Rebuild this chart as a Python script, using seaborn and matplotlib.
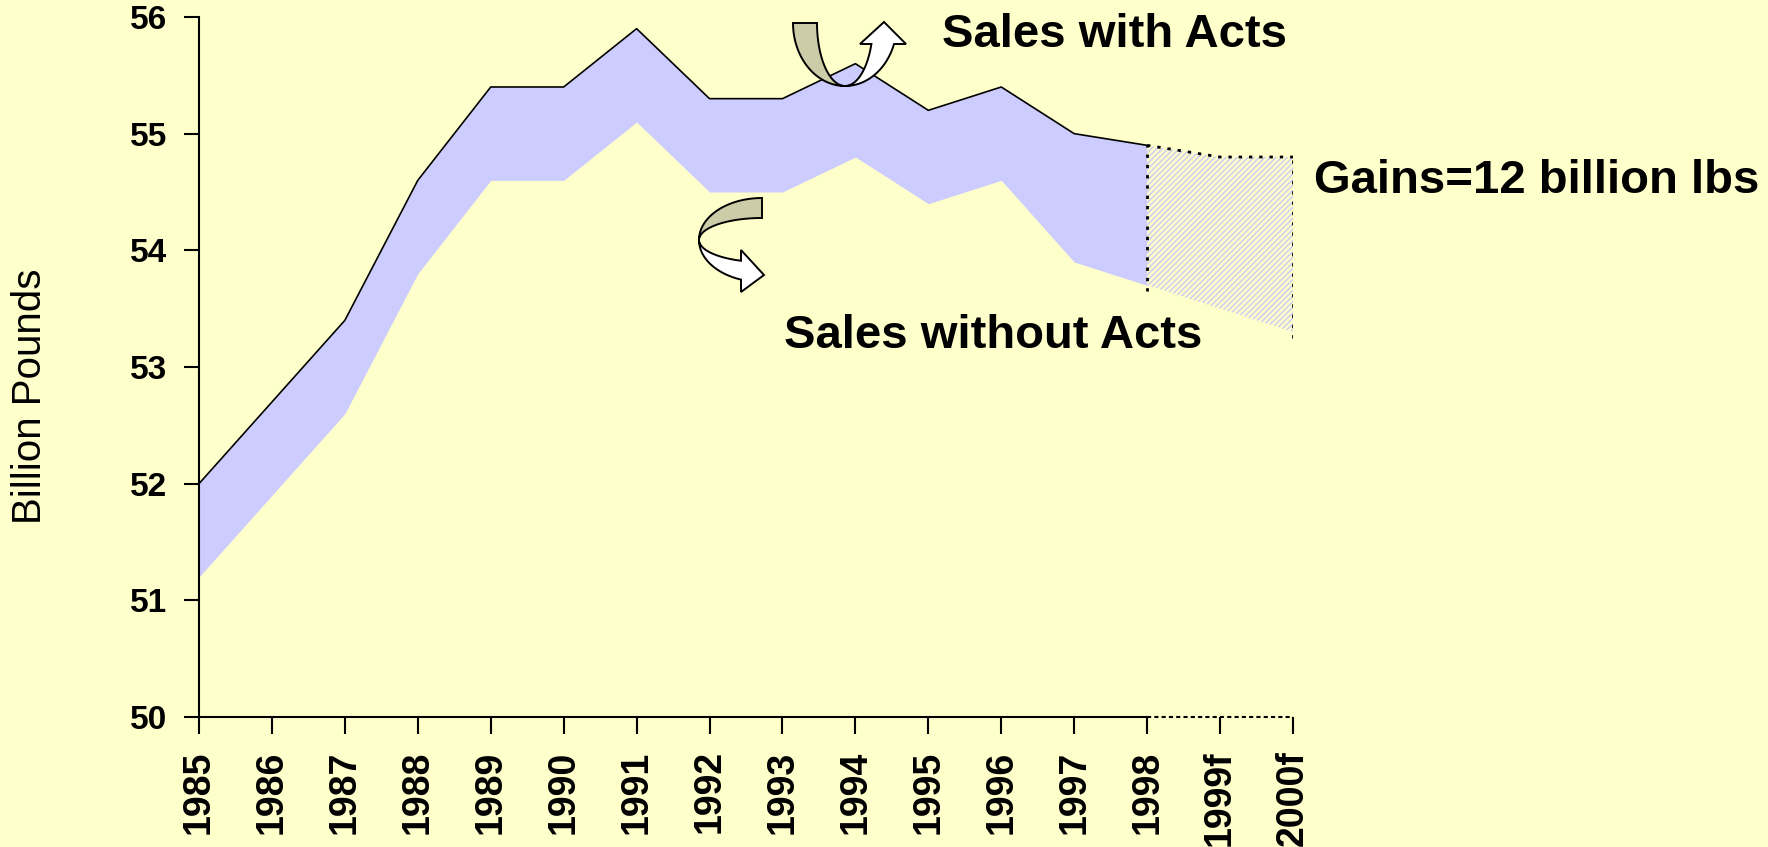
import numpy as np
import matplotlib
matplotlib.use("Agg")
import matplotlib.pyplot as plt
from matplotlib.patches import Polygon
import seaborn as sns

# --- data ---
years = ["1985", "1986", "1987", "1988", "1989", "1990", "1991", "1992",
         "1993", "1994", "1995", "1996", "1997", "1998", "1999f", "2000f"]
with_acts = [52.0, 52.7, 53.4, 54.6, 55.4, 55.4, 55.9, 55.3,
             55.3, 55.6, 55.2, 55.4, 55.0, 54.9, 54.8, 54.8]
without_acts = [51.2, 51.9, 52.6, 53.8, 54.6, 54.6, 55.1, 54.5,
                54.5, 54.8, 54.4, 54.6, 53.9, 53.7, 53.5, 53.3]
last_actual = "1998"
y_ticks = [50, 51, 52, 53, 54, 55, 56]

BG = "#FFFFCC"
LAVENDER = "#CCCCFF"
TAN = "#CCCCA8"
W, H = 1768, 847

sns.set_style("ticks")
plt.rcParams["font.family"] = ["Liberation Sans", "DejaVu Sans"]
plt.rcParams["text.color"] = "black"
plt.rcParams["hatch.linewidth"] = 1.0

fig = plt.figure(figsize=(W / 100, H / 100), dpi=100, facecolor=BG)
ax = fig.add_axes([199 / W, 1 - 717 / H, (1293 - 199) / W, 700 / H])
ax.set_facecolor(BG)

pos = np.arange(len(years))
top = np.array(with_acts)
bot = np.array(without_acts)
k = years.index(last_actual)

# actual period: lavender band + solid top line
ax.fill_between(pos[:k + 1], bot[:k + 1], top[:k + 1], color=LAVENDER, lw=0)
sns.lineplot(x=pos[:k + 1], y=top[:k + 1], color="black", lw=1.2, ax=ax)

# forecast period: hatched band with dotted outline
ax.fill_between(pos[k:], bot[k:], top[k:], facecolor=BG, edgecolor="#CACAF2",
                hatch="//////", lw=0)
sns.lineplot(x=pos[k:], y=top[k:], color="black", lw=2, ls=(0, (1.2, 2.5)), ax=ax)
ax.vlines([pos[k], pos[-1]], [bot[k] - 0.05, bot[-1] - 0.05], [top[k], top[-1]],
          colors="black", lw=2, linestyles=[(0, (1.2, 2.5))])

ax.set_xlim(0, len(years) - 1)
ax.set_ylim(y_ticks[0], y_ticks[-1])
ax.set_xticks(pos)
ax.set_xticklabels(years, rotation=90, fontsize=27, fontweight="bold")
ax.set_yticks(y_ticks)
ax.set_yticklabels([str(t) for t in y_ticks], fontsize=24, fontweight="bold")
ax.tick_params(axis="y", length=11, width=1.5, pad=12, colors="black")
ax.tick_params(axis="x", length=12, width=1.5, pad=12, colors="black")
ax.set_xlabel("")
ax.set_ylabel("")

for side in ["top", "right"]:
    ax.spines[side].set_visible(False)
for side in ["left", "bottom"]:
    ax.spines[side].set_color("black")
    ax.spines[side].set_linewidth(1.5)
ax.spines["bottom"].set_bounds(0, k)
ax.plot([pos[k], pos[-1]], [y_ticks[0]] * 2, color="black", lw=1.5,
        ls=(0, (2, 1.5)), clip_on=False)


def fxy(pts):
    return [(x / W, 1 - y / H) for x, y in pts]


def arc(cx, cy, a, b, t0, t1, n=40):
    t = np.linspace(t0, t1, n)
    return list(zip(cx + a * np.cos(t), cy + b * np.sin(t)))


# curved arrow near "Sales with Acts"
cx, cy, b = 845, 23, 63
te = np.arcsin((44 - cy) / b)
back = arc(cx, cy, 52, b, np.pi, np.pi / 2) + arc(cx, cy, 28, b, np.pi / 2, np.pi)
front = (arc(cx, cy, 52, b, np.pi / 2, te) + [(906, 44), (884, 22), (860, 44)]
         + arc(cx, cy, 28, b, te, np.pi / 2))
fig.add_artist(Polygon(fxy(back), closed=True, transform=fig.transFigure,
                       facecolor=TAN, edgecolor="black", lw=1.4))
fig.add_artist(Polygon(fxy(front), closed=True, transform=fig.transFigure,
                       facecolor="white", edgecolor="black", lw=1.4))

# curved arrow near "Sales without Acts"
cx, cy, a = 762, 240, 63
te = np.arccos((741 - cx) / a)
back = arc(cx, cy, a, 42, 1.5 * np.pi, np.pi) + arc(cx, cy, a, 22, np.pi, 1.5 * np.pi)
front = (arc(cx, cy, a, 42, np.pi, te) + [(741, 292), (764, 275), (741, 250)]
         + arc(cx, cy, a, 22, te, np.pi))
fig.add_artist(Polygon(fxy(back), closed=True, transform=fig.transFigure,
                       facecolor=TAN, edgecolor="black", lw=1.4))
fig.add_artist(Polygon(fxy(front), closed=True, transform=fig.transFigure,
                       facecolor="white", edgecolor="black", lw=1.4))

# text labels
fig.text(942 / W, 1 - 47 / H, "Sales with Acts", fontsize=34, fontweight="bold",
         ha="left", va="baseline", color="black")
fig.text(1314 / W, 1 - 193 / H, "Gains=12 billion lbs", fontsize=34,
         fontweight="bold", ha="left", va="baseline", color="black")
fig.text(784 / W, 1 - 348 / H, "Sales without Acts", fontsize=34,
         fontweight="bold", ha="left", va="baseline", color="black")
fig.text(30 / W, 1 - 396 / H, "Billion Pounds", fontsize=29, rotation=90,
         ha="center", va="center", color="black")

fig.savefig("out.png", dpi=100, facecolor=BG)
